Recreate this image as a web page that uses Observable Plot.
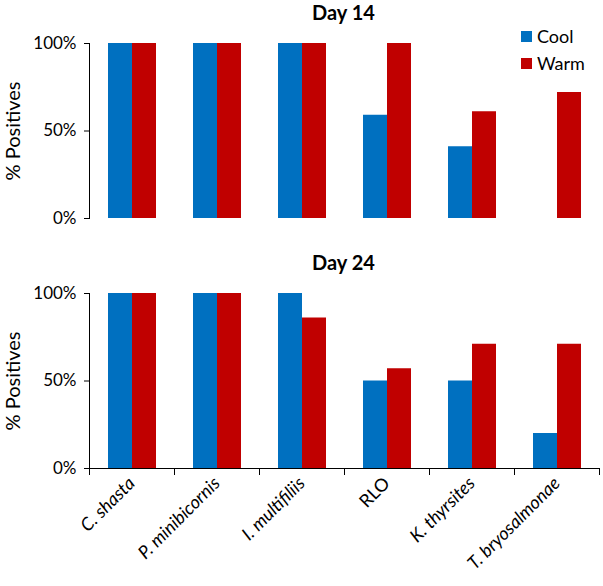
<!DOCTYPE html>
<html>
<head>
<meta charset="utf-8">
<script src="https://cdn.jsdelivr.net/npm/d3@7"></script>
<script src="https://cdn.jsdelivr.net/npm/@observablehq/plot@0.6"></script>
<style>
  html, body { margin: 0; padding: 0; background: #fff; }
  #chart { position: relative; width: 603px; height: 586px; background: #fff; font-family: Lato, sans-serif; color: #000; }
  #chart svg { position: absolute; left: 0; overflow: visible; }
  .title { position: absolute; left: 86px; width: 515px; text-align: center; font-weight: bold; font-size: 20px; line-height: 24px; }
  .legend { position: absolute; left: 521px; display: flex; align-items: center; font-size: 18px; line-height: 22px; height: 22px; }
  .legend span.sw { display: inline-block; width: 11px; height: 11px; margin-right: 5px; }
</style>
</head>
<body>
<div id="chart"></div>
<script>
// ---- data ----
const categories = ["C. shasta", "P. minibicornis", "I. multifiliis", "RLO", "K. thyrsites", "T. bryosalmonae"];
const series = ["Cool", "Warm"];
const day14Cool = [1.00, 1.00, 1.00, 0.59, 0.41, 0.00];
const day14Warm = [1.00, 1.00, 1.00, 1.00, 0.61, 0.72];
const day24Cool = [1.00, 1.00, 1.00, 0.50, 0.50, 0.20];
const day24Warm = [1.00, 1.00, 0.86, 0.57, 0.71, 0.71];
const yTicks = [0, 0.5, 1];
const panelTitles = ["Day 14", "Day 24"];
const yLabel = "% Positives";
const colors = ["#0070C0", "#C00000"];
const plainLabels = new Set(["RLO"]);

// ---- layout ----
const W = 603;
const ML = 86, MR = 2, MT = 43;

function panel(cool, warm, h, mb, withXAxis) {
  const rows = categories.flatMap((c, i) => [
    {cat: c, series: series[0], value: cool[i]},
    {cat: c, series: series[1], value: warm[i]}
  ]);
  const plotH = h - MT - mb;
  const marks = [
    Plot.barY(rows, {fx: "cat", x: "series", y: "value", fill: "series"}),
    Plot.frame({anchor: "left", facetAnchor: "left", stroke: "#000"}),
    Plot.axisY({ticks: yTicks, tickFormat: d3.format(".0%"), tickSize: 5, tickPadding: 8, fontSize: 17, label: null}),
    Plot.text([yLabel], {fx: () => categories[0], text: d => d, frameAnchor: "left", textAnchor: "middle", rotate: -90, dx: -76, fontSize: 20})
  ];
  if (withXAxis) {
    marks.push(
      Plot.frame({anchor: "bottom", stroke: "#000"}),
      Plot.frame({anchor: "left", insetTop: plotH, insetBottom: -6, stroke: "#000"}),
      Plot.frame({anchor: "right", insetTop: plotH, insetBottom: -6, stroke: "#000"}),
      Plot.text(categories.filter(c => !plainLabels.has(c)), {fx: d => d, text: d => d, frameAnchor: "bottom", rotate: -45, textAnchor: "end", dx: 4, dy: 16, fontSize: 18, fontStyle: "italic"}),
      Plot.text(categories.filter(c => plainLabels.has(c)), {fx: d => d, text: d => d, frameAnchor: "bottom", rotate: -45, textAnchor: "end", dx: 4, dy: 16, fontSize: 18})
    );
  }
  return Plot.plot({
    width: W,
    height: h,
    marginLeft: ML,
    marginRight: MR,
    marginTop: MT,
    marginBottom: mb,
    style: {fontFamily: "Lato, sans-serif", background: "transparent", color: "#000", overflow: "visible"},
    fx: {domain: categories, padding: 0, axis: null},
    x: {domain: series, paddingInner: 0, paddingOuter: 0.75, axis: null},
    y: {domain: [0, 1], axis: null},
    color: {domain: series, range: colors},
    marks
  });
}

const chart = document.getElementById("chart");
const p1 = panel(day14Cool, day14Warm, 250, 32, false);
p1.style.top = "0px";
const p2 = panel(day24Cool, day24Warm, 336, 118, true);
p2.style.top = "250px";
chart.appendChild(p1);
chart.appendChild(p2);

panelTitles.forEach((t, i) => {
  const d = document.createElement("div");
  d.className = "title";
  d.style.top = (i * 250) + "px";
  d.textContent = t;
  chart.appendChild(d);
});

series.forEach((s, i) => {
  const d = document.createElement("div");
  d.className = "legend";
  d.style.top = (25 + i * 27) + "px";
  const sw = document.createElement("span");
  sw.className = "sw";
  sw.style.background = colors[i];
  d.appendChild(sw);
  d.appendChild(document.createTextNode(s));
  chart.appendChild(d);
});
</script>
</body>
</html>
